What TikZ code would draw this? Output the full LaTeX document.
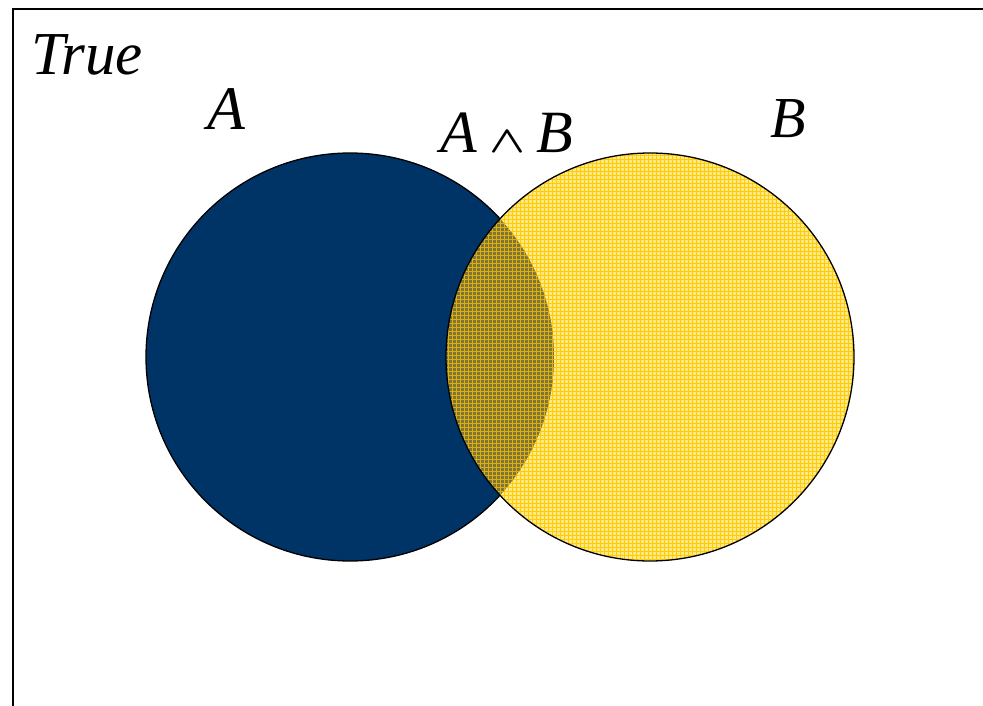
\documentclass[tikz,border=0pt]{standalone}
\usepackage{fontspec}
\newfontfamily\tnr{Liberation Serif}
\begin{document}
\begin{tikzpicture}[x=1pt,y=-1pt]
\definecolor{navy}{HTML}{003366}
\definecolor{lyel}{HTML}{FFE88A}
\definecolor{dyel}{HTML}{FFCC00}
\definecolor{olive}{HTML}{807538}
\definecolor{oline}{HTML}{DDB010}
\tikzset{lbl/.style={font=\tnr\itshape, inner sep=0pt, anchor=base}}
\useasboundingbox (0,0) rectangle (983,706);
\fill[white] (0,0) rectangle (983,706);
\draw[line width=1.6pt] (13,706) -- (13,9) -- (983,9);
% A circle
\coordinate (ca) at (350,357);
\coordinate (cb) at (650,357);
\fill[navy] (ca) circle[radius=204];
\draw[line width=1.3pt] (ca) circle[radius=204];
% B circle pattern
\begin{scope}
\clip (cb) circle[radius=204];
\fill[lyel] (cb) circle[radius=204];
\foreach \i in {0,...,104}{
  \draw[dyel, line width=0.65pt] (444+4*\i,150) -- (444+4*\i,564);
  \draw[dyel, line width=0.65pt] (444,151+4*\i) -- (858,151+4*\i);
}
\end{scope}
% intersection
\begin{scope}
\clip (ca) circle[radius=204];
\clip (cb) circle[radius=204];
\fill[olive] (cb) circle[radius=204];
\foreach \i in {0,...,30}{
  \draw[oline, line width=0.65pt] (444+4*\i,150) -- (444+4*\i,564);
}
\foreach \i in {0,...,104}{
  \draw[oline, line width=0.65pt] (444,151+4*\i) -- (560,151+4*\i);
}
\end{scope}
\draw[line width=1.3pt] (cb) circle[radius=204];
% labels
\node[lbl, font=\tnr\itshape\fontsize{61}{66}\selectfont] (t) at (87,75) {True};
\node[lbl, font=\tnr\itshape\fontsize{62}{66}\selectfont] (a) at (226,130) {A};
\node[lbl, font=\tnr\itshape\fontsize{60}{66}\selectfont] (ab) at (507,153) {A\hspace{12pt}{\mathversion{bold}\resizebox{36pt}{21pt}{$\wedge$}}\hspace{11pt}B};
\node[lbl, font=\tnr\itshape\fontsize{58}{66}\selectfont] (b) at (788,138) {B};
\end{tikzpicture}
\end{document}
